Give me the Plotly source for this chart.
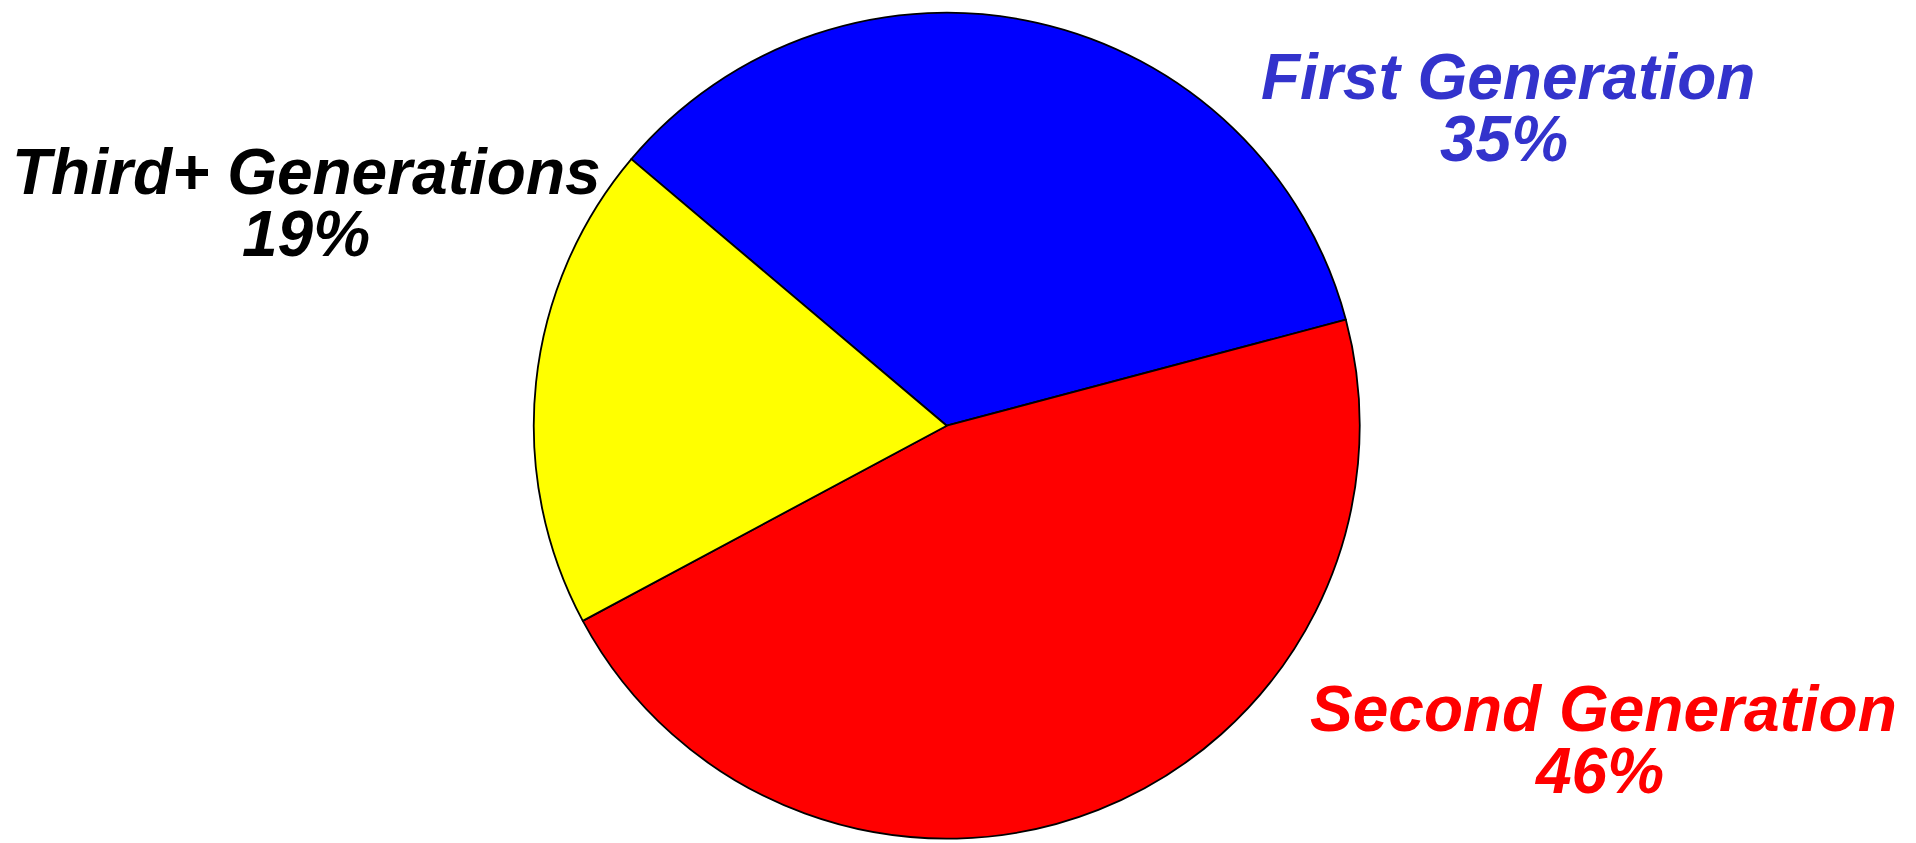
import plotly.graph_objects as go

# Data
categories = ["First Generation", "Second Generation", "Third+ Generations"]
shares = [34.7, 46.3, 19.0]
pct_labels = ["35%", "46%", "19%"]
slice_colors = ["#0000ff", "#ff0000", "#ffff00"]
label_colors = ["#3333cc", "#ff0000", "#000000"]

W, H = 1916, 843

fig = go.Figure()
fig.add_trace(go.Pie(
    labels=categories,
    values=shares,
    sort=False,
    direction="clockwise",
    rotation=-49.8,
    textinfo="none",
    hoverinfo="label+percent",
    marker=dict(colors=slice_colors, line=dict(color="#000000", width=1.8)),
    domain=dict(x=[0.2551, 0.7248], y=[0.0146, 0.9944]),
    showlegend=False,
))

# label positions in pixels: (name x, name-line centre y, pct x, pct-line centre y)
label_pos = [
    (1500, 69, 1496, 131),
    (1595, 701, 1591, 763),
    (298, 164, 298, 226),
]

font_family = "Liberation Sans, Arial, Helvetica, sans-serif"
for name, pct, col, (x1, y1, x2, y2) in zip(categories, pct_labels, label_colors, label_pos):
    for txt, px, py in ((name, x1, y1), (pct, x2, y2)):
        fig.add_annotation(
            text=txt, x=px / W, y=1 - py / H, xref="paper", yref="paper",
            xanchor="center", yanchor="middle", showarrow=False,
            height=58, valign="middle",
            font=dict(family=font_family, size=64, color=col,
                      weight="bold", style="italic"),
        )

fig.update_layout(
    width=W, height=H,
    margin=dict(l=0, r=0, t=0, b=0),
    paper_bgcolor="white", plot_bgcolor="white",
)

fig.write_html("out.html")
